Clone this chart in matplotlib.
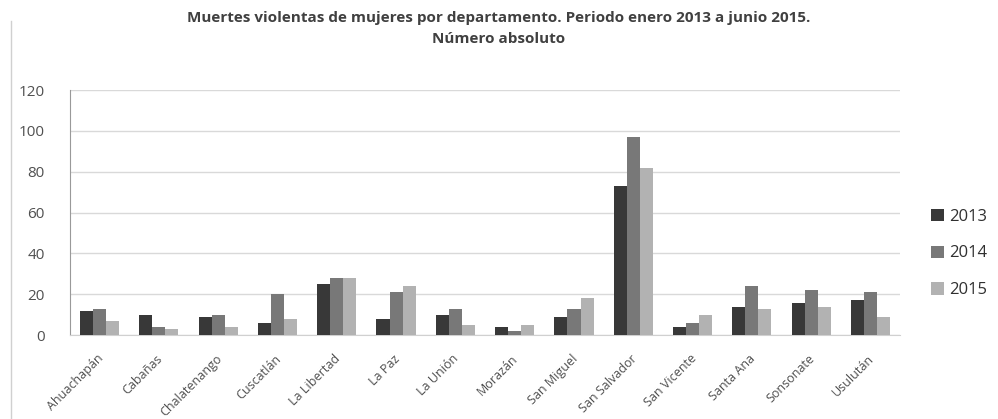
import matplotlib
matplotlib.use("Agg")
import matplotlib.pyplot as plt
import numpy as np
from matplotlib.lines import Line2D
from matplotlib.transforms import ScaledTranslation

categories = ["Ahuachapán", "Cabañas", "Chalatenango", "Cuscatlán", "La Libertad", "La Paz",
              "La Unión", "Morazán", "San Miguel", "San Salvador", "San Vicente", "Santa Ana",
              "Sonsonate", "Usulután"]
years = ["2013", "2014", "2015"]
v2013 = [12, 10, 9, 6, 25, 8, 10, 4, 9, 73, 4, 14, 16, 17]
v2014 = [13, 4, 10, 20, 28, 21, 13, 2, 13, 97, 6, 24, 22, 21]
v2015 = [7, 3, 4, 8, 28, 24, 5, 5, 18, 82, 10, 13, 14, 9]
yticks = [0, 20, 40, 60, 80, 100, 120]

colors = ["#383838", "#787878", "#b2b2b2"]
plt.rcParams['font.family'] = ['Open Sans', 'DejaVu Sans']

fig = plt.figure(figsize=(9.98, 4.19), dpi=100)
ax = fig.add_axes([0.07, 0.2, 0.832, 0.585])

x = np.arange(len(categories))
w = 0.22
for i, (vals, yr) in enumerate(zip([v2013, v2014, v2015], years)):
    ax.bar(x + (i - 1) * w, vals, width=w, color=colors[i], label=yr, zorder=3)

ax.set_xlim(-0.5, len(categories) - 0.5)
ax.set_ylim(0, 120)
ax.set_yticks(yticks)
ax.set_yticklabels([str(t) for t in yticks], fontsize=11, color="#505050")
ax.yaxis.grid(True, color="#d9d9d9", linewidth=1, zorder=0)
ax.tick_params(axis='y', length=0, pad=18)
ax.tick_params(axis='x', length=0, pad=0)
ax.set_xticks(x)
ax.set_xticklabels(categories, rotation=45, ha='right', rotation_mode='anchor',
                   fontsize=9, color="#505050")
offset = ScaledTranslation(-3 / 100, -17 / 100, fig.dpi_scale_trans)
for lbl in ax.get_xticklabels():
    lbl.set_transform(lbl.get_transform() + offset)

for s in ['top', 'right']:
    ax.spines[s].set_visible(False)
ax.spines['left'].set_color("#999999")
ax.spines['bottom'].set_color("#d0d0d0")

fig.text(0.5, 0.957, "Muertes violentas de mujeres por departamento. Periodo enero 2013 a junio 2015.",
         ha='center', va='center', fontsize=11, fontweight='bold', color="#404040")
fig.text(0.5, 0.908, "Número absoluto", ha='center', va='center', fontsize=11,
         fontweight='bold', color="#404040")

leg = fig.legend(loc='center left', bbox_to_anchor=(0.933, 0.395), frameon=False, fontsize=12,
                 handlelength=0.75, handleheight=0.75, handletextpad=0.35, labelspacing=1.25,
                 borderaxespad=0, borderpad=0)
for t in leg.get_texts():
    t.set_color("#303030")

fig.add_artist(Line2D([0.011, 0.011], [0.0, 0.95], color="#d0d0d0", linewidth=1))

fig.savefig("out.png", dpi=100)
